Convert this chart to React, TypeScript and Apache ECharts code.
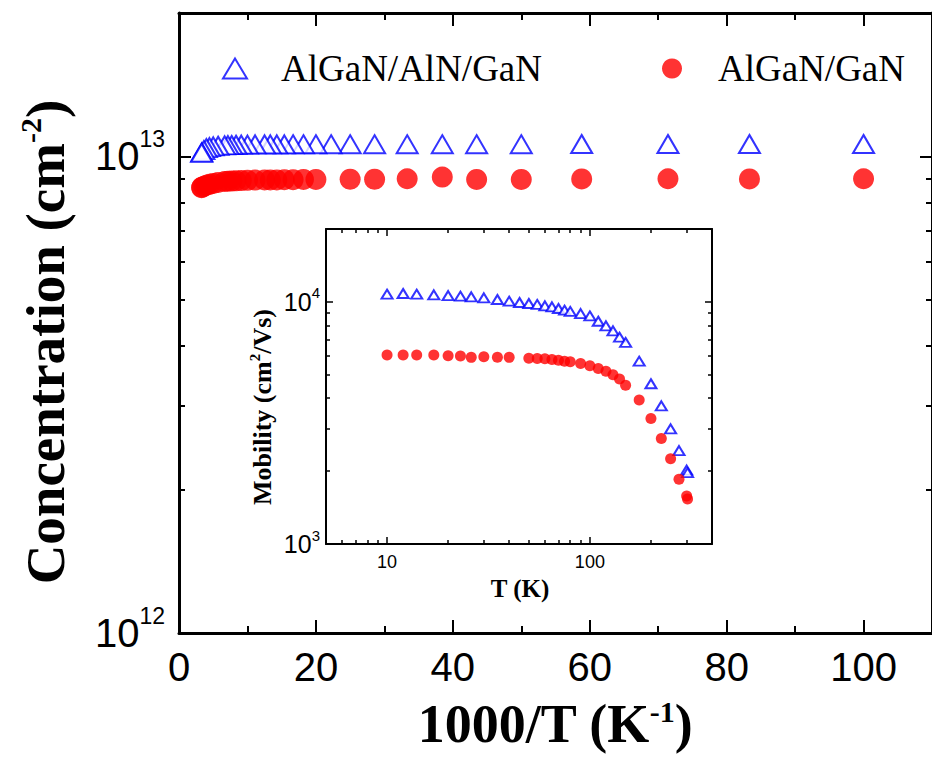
import { useEffect, useRef } from "react";
import * as echarts from "echarts";

const seriesNames = ["AlGaN/AlN/GaN", "AlGaN/GaN"];

// Temperatures (K) of the measurement points
const tempAlN = [10, 12, 14, 17, 20, 23, 26, 30, 35, 40, 45, 50, 55, 60, 65, 70, 75, 80, 90, 100, 110, 120, 130, 140, 150, 175, 200, 225, 250, 275, 300, 303];
const tempGaN = [10, 12, 14, 17, 20, 23, 26, 30, 35, 40, 50, 55, 60, 65, 70, 75, 80, 90, 100, 110, 120, 130, 140, 150, 175, 200, 225, 250, 275, 300, 303];

// Sheet concentration (cm^-2)
const concAlN = [1.062e13, 1.062e13, 1.062e13, 1.062e13, 1.061e13, 1.061e13, 1.061e13, 1.061e13, 1.061e13, 1.061e13, 1.061e13, 1.061e13, 1.061e13, 1.061e13, 1.06e13, 1.06e13, 1.06e13, 1.06e13, 1.06e13, 1.059e13, 1.059e13, 1.058e13, 1.057e13, 1.056e13, 1.055e13, 1.053e13, 1.05e13, 1.046e13, 1.041e13, 1.031e13, 1.02e13, 1.018e13];
const concGaN = [8.98e12, 8.97e12, 8.98e12, 8.97e12, 8.95e12, 8.95e12, 9.05e12, 8.98e12, 8.96e12, 8.96e12, 8.95e12, 8.95e12, 8.94e12, 8.94e12, 8.93e12, 8.93e12, 8.93e12, 8.92e12, 8.91e12, 8.9e12, 8.89e12, 8.88e12, 8.87e12, 8.86e12, 8.82e12, 8.78e12, 8.74e12, 8.7e12, 8.66e12, 8.62e12, 8.6e12];

// Hall mobility (cm^2/Vs)
const mobAlN = [10760, 10830, 10760, 10690, 10620, 10560, 10490, 10390, 10230, 10070, 9940, 9850, 9760, 9630, 9540, 9390, 9240, 9130, 8950, 8750, 8320, 7960, 7590, 7150, 6800, 5690, 4590, 3720, 2990, 2430, 2020, 1970];
const mobGaN = [6030, 6030, 6030, 6030, 5990, 5980, 5900, 5930, 5910, 5900, 5855, 5840, 5820, 5780, 5745, 5690, 5655, 5570, 5445, 5310, 5175, 5000, 4800, 4530, 3930, 3300, 2730, 2250, 1850, 1580, 1535];

// Ticks
const mainXMajor = [0, 20, 40, 60, 80, 100];
const mainXMinor = [10, 30, 50, 70, 90];
const mainYMajor = [1e12, 1e13];
const mainYMinor = [2e12, 3e12, 4e12, 5e12, 6e12, 7e12, 8e12, 9e12, 2e13];
const insetXMajor = [10, 100];
const insetXMinor = [6, 7, 8, 9, 20, 30, 40, 50, 60, 70, 80, 90, 200, 300, 400];
const insetYMajor = [1e3, 1e4];
const insetYMinor = [2e3, 3e3, 4e3, 5e3, 6e3, 7e3, 8e3, 9e3, 2e4];

const BLUE = "#0000ff";
const RED = "#ff0000";
const SANS = "'Liberation Sans', Arial, sans-serif";
const NARROW = "'Liberation Sans Narrow', 'Liberation Sans', Arial, sans-serif";
const SERIF = "'Liberation Serif', 'Times New Roman', serif";

type AxOpt = {
  gridIndex: number;
  type: "value" | "log";
  min: number;
  max: number;
  position: string;
  ticks: number[];
  tickLen: number;
  tickWidth: number;
  lineWidth: number;
  showLine: boolean;
  labels?: number[];
  label?: any;
};

function axis(o: AxOpt) {
  return {
    gridIndex: o.gridIndex,
    type: o.type,
    ...(o.type === "log" ? { logBase: 10 } : {}),
    min: o.min,
    max: o.max,
    position: o.position,
    axisLine: { show: o.showLine, onZero: false, lineStyle: { color: "#000", width: o.lineWidth } },
    axisTick: {
      show: true,
      inside: true,
      length: o.tickLen,
      customValues: o.ticks,
      lineStyle: { color: "#000", width: o.tickWidth },
    },
    minorTick: { show: false },
    axisLabel: o.labels ? { show: true, customValues: o.labels, ...o.label } : { show: false },
    splitLine: { show: false },
  };
}

const powLabel = (v: number) => `{b|10}{s|${Math.round(Math.log10(v))}}`;

export default function App() {
  const ref = useRef<HTMLDivElement>(null);
  useEffect(() => {
    document.body.style.margin = "0";
    if (!ref.current) return;
    const chart = echarts.init(ref.current, null, { renderer: "svg" });

    const mainX = (pos: string, major: boolean, labels?: boolean) =>
      axis({
        gridIndex: 0, type: "value", min: 0, max: 110, position: pos,
        ticks: major ? mainXMajor : mainXMinor, tickLen: major ? 13 : 7, tickWidth: 2,
        lineWidth: 3, showLine: major,
        labels: labels ? mainXMajor : undefined,
        label: { margin: 14, fontFamily: NARROW, fontSize: 40, color: "#000" },
      });
    const mainY = (pos: string, major: boolean, labels?: boolean) =>
      axis({
        gridIndex: 0, type: "log", min: 1e12, max: 2e13, position: pos,
        ticks: major ? mainYMajor : mainYMinor, tickLen: major ? 12 : 6, tickWidth: 2,
        lineWidth: 3, showLine: major,
        labels: labels ? mainYMajor : undefined,
        label: {
          margin: 14, formatter: powLabel,
          rich: {
            b: { fontFamily: SANS, fontSize: 40, color: "#000" },
            s: { fontFamily: SANS, fontSize: 23, color: "#000", padding: [0, 0, 34, 0] },
          },
        },
      });
    const insX = (pos: string, major: boolean, labels?: boolean) =>
      axis({
        gridIndex: 1, type: "log", min: 5, max: 400, position: pos,
        ticks: major ? insetXMajor : insetXMinor, tickLen: major ? 7 : 4, tickWidth: 1.5,
        lineWidth: 2, showLine: major,
        labels: labels ? insetXMajor : undefined,
        label: { margin: 9, fontFamily: SANS, fontSize: 18, color: "#000" },
      });
    const insY = (pos: string, major: boolean, labels?: boolean) =>
      axis({
        gridIndex: 1, type: "log", min: 1e3, max: 2e4, position: pos,
        ticks: major ? insetYMajor : insetYMinor, tickLen: major ? 7 : 4, tickWidth: 1.5,
        lineWidth: 2, showLine: major,
        labels: labels ? insetYMajor : undefined,
        label: {
          margin: 6, formatter: powLabel,
          rich: {
            b: { fontFamily: SANS, fontSize: 25, color: "#000" },
            s: { fontFamily: SANS, fontSize: 15, color: "#000", padding: [0, 0, 18, 0] },
          },
        },
      });

    const option: any = {
      animation: false,
      backgroundColor: "#fff",
      grid: [
        { left: 179, top: 13, width: 757, height: 620 },
        { left: 326, top: 229, width: 386, height: 315 },
      ],
      xAxis: [
        mainX("bottom", true, true),
        mainX("bottom", false),
        mainX("top", true),
        mainX("top", false),
        insX("bottom", true, true),
        insX("bottom", false),
        insX("top", true),
        insX("top", false),
      ],
      yAxis: [
        mainY("left", true, true),
        mainY("left", false),
        mainY("right", true),
        mainY("right", false),
        insY("left", true, true),
        insY("left", false),
        insY("right", true),
        insY("right", false),
      ],
      legend: {
        data: seriesNames,
        left: 222,
        top: 50,
        padding: 0,
        itemWidth: 24,
        itemHeight: 20,
        itemGap: 120,
        selectedMode: false,
        textStyle: { fontFamily: SERIF, fontSize: 37, color: "#000", padding: [0, 0, 0, 29] },
      },
      graphic: [
        {
          type: "text", x: 45, y: 342, rotation: Math.PI / 2,
          style: {
            text: "{t|Concentration (cm}{s|-2}{t|)}",
            align: "center", verticalAlign: "middle",
            rich: {
              t: { fontFamily: SERIF, fontWeight: "bold", fontSize: 55, fill: "#000" },
              s: { fontFamily: SERIF, fontWeight: "bold", fontSize: 30, fill: "#000", padding: [0, 0, 30, 0] },
            },
          },
        },
        {
          type: "text", x: 555, y: 724,
          style: {
            text: "{t|1000/T (K}{s|-1}{t|)}",
            align: "center", verticalAlign: "middle",
            rich: {
              t: { fontFamily: SERIF, fontWeight: "bold", fontSize: 54, lineHeight: 56, fill: "#000" },
              s: { fontFamily: SERIF, fontWeight: "bold", fontSize: 30, lineHeight: 30, fill: "#000", padding: [0, 0, 26, 0] },
            },
          },
        },
        {
          type: "text", x: 262, y: 407, rotation: Math.PI / 2,
          style: {
            text: "{t|Mobility (cm}{s|2}{t|/Vs)}",
            align: "center", verticalAlign: "middle",
            rich: {
              t: { fontFamily: SERIF, fontWeight: "bold", fontSize: 26, fill: "#000" },
              s: { fontFamily: SERIF, fontWeight: "bold", fontSize: 15, fill: "#000", padding: [0, 0, 15, 0] },
            },
          },
        },
        {
          type: "text", x: 520, y: 588,
          style: {
            text: "T (K)", align: "center", verticalAlign: "middle",
            fontFamily: SERIF, fontWeight: "bold", fontSize: 25, fill: "#000",
          },
        },
      ],
      series: [
        {
          name: seriesNames[0], type: "scatter", xAxisIndex: 0, yAxisIndex: 0,
          symbol: "emptyTriangle", symbolSize: [21, 18],
          itemStyle: { color: BLUE, borderColor: BLUE, borderWidth: 2.5 },
          data: tempAlN.map((t, i) => [1000 / t, concAlN[i]]),
        },
        {
          name: seriesNames[1], type: "scatter", xAxisIndex: 0, yAxisIndex: 0,
          symbol: "circle", symbolSize: 21,
          itemStyle: { color: RED },
          data: tempGaN.map((t, i) => [1000 / t, concGaN[i]]),
        },
        {
          name: seriesNames[0], type: "scatter", xAxisIndex: 4, yAxisIndex: 4,
          symbol: "emptyTriangle", symbolSize: [11, 9],
          itemStyle: { color: BLUE, borderColor: BLUE, borderWidth: 1.5 },
          data: tempAlN.map((t, i) => [t, mobAlN[i]]),
        },
        {
          name: seriesNames[1], type: "scatter", xAxisIndex: 4, yAxisIndex: 4,
          symbol: "circle", symbolSize: 11,
          itemStyle: { color: RED },
          data: tempGaN.map((t, i) => [t, mobGaN[i]]),
        },
      ],
    };
    chart.setOption(option);
    return () => chart.dispose();
  }, []);
  return <div ref={ref} style={{ width: 932, height: 758 }} />;
}
